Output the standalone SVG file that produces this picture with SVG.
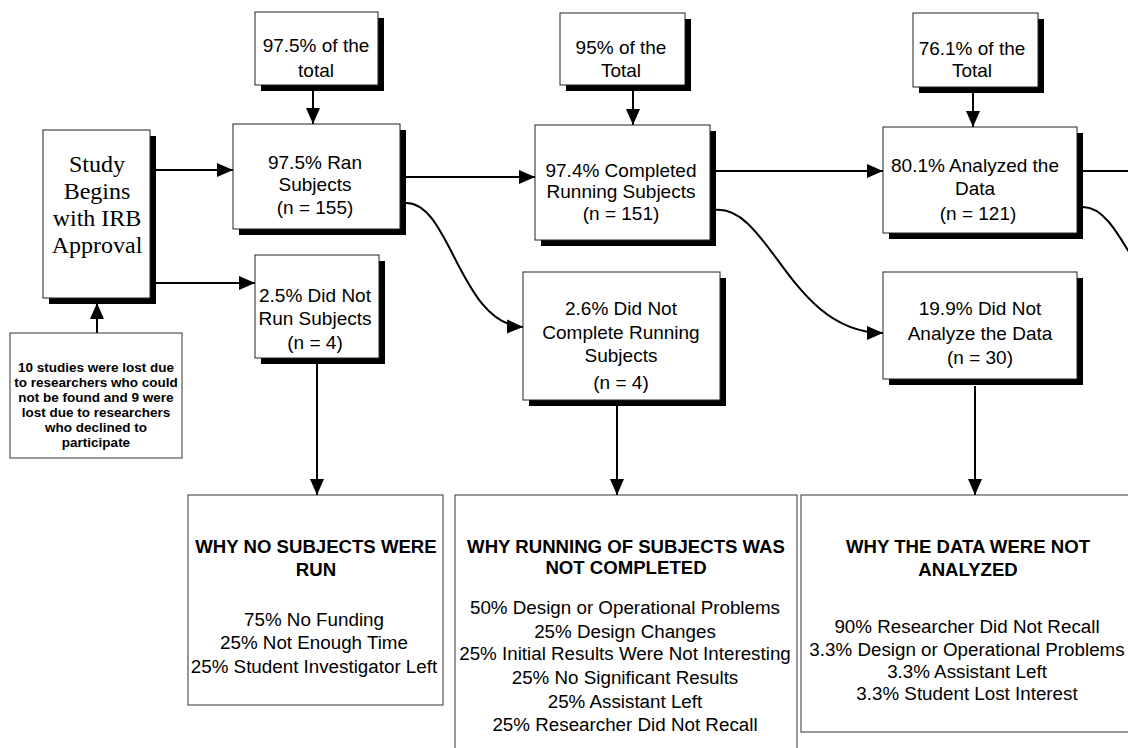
<svg xmlns="http://www.w3.org/2000/svg" width="1128" height="748" viewBox="0 0 1128 748">
<style>
.bg{fill:#fff}
.box{fill:#fff;stroke:#222;stroke-width:1}
.sh{fill:#000}
.thin{fill:#fff;stroke:#333;stroke-width:1}
.t{font-family:"Liberation Sans",Arial,sans-serif;font-size:19px;fill:#000;text-anchor:middle}
.s{font-family:"Liberation Serif","Times New Roman",serif;font-size:24px;fill:#000;text-anchor:middle}
.n{font-family:"Liberation Sans",Arial,sans-serif;font-size:13.5px;font-weight:bold;fill:#000;text-anchor:middle}
.h{font-family:"Liberation Sans",Arial,sans-serif;font-size:18.6px;font-weight:bold;fill:#000;text-anchor:middle}
.b{font-family:"Liberation Sans",Arial,sans-serif;font-size:18.8px;fill:#000;text-anchor:middle}
.c{fill:none;stroke:#000;stroke-width:2}
</style>
<defs>
<marker id="ah" markerUnits="userSpaceOnUse" markerWidth="16" markerHeight="14" refX="16" refY="7" orient="auto">
<path d="M0,0 L16,7 L0,14 z" fill="#000"/>
</marker>
</defs>
<rect class="bg" x="0" y="0" width="1128" height="748"/>

<g id="connectors">
<line class="c" x1="313" y1="90" x2="313" y2="124" marker-end="url(#ah)"/>
<line class="c" x1="633" y1="90" x2="633" y2="125" marker-end="url(#ah)"/>
<line class="c" x1="973" y1="92" x2="973" y2="127" marker-end="url(#ah)"/>
<line class="c" x1="156" y1="170" x2="233" y2="170" marker-end="url(#ah)"/>
<line class="c" x1="156" y1="283" x2="255" y2="283" marker-end="url(#ah)"/>
<line class="c" x1="97" y1="333" x2="97" y2="303" marker-end="url(#ah)"/>
<line class="c" x1="406" y1="177" x2="535" y2="177" marker-end="url(#ah)"/>
<line class="c" x1="716" y1="171" x2="883" y2="171" marker-end="url(#ah)"/>
<line class="c" x1="1083" y1="171" x2="1130" y2="171"/>
<path class="c" d="M405,203 C450,200 460,325 523,327" marker-end="url(#ah)"/>
<path class="c" d="M715,210 C770,205 790,333 883,333" marker-end="url(#ah)"/>
<path class="c" d="M1083,207 C1102,207 1115,228 1135,262"/>
<line class="c" x1="317" y1="364" x2="317" y2="495" marker-end="url(#ah)"/>
<line class="c" x1="617" y1="406" x2="617" y2="495" marker-end="url(#ah)"/>
<line class="c" x1="975" y1="386" x2="975" y2="495" marker-end="url(#ah)"/>
</g>

<g id="n_total1">
<rect class="sh" x="261" y="18" width="123" height="73"/>
<rect class="box" x="255" y="12" width="123" height="73"/>
<text class="t" x="316" y="52">97.5% of the</text>
<text class="t" x="316" y="77">total</text>
</g>

<g id="n_total2">
<rect class="sh" x="566" y="19" width="125" height="72"/>
<rect class="box" x="560" y="13" width="125" height="72"/>
<text class="t" x="621" y="54">95% of the</text>
<text class="t" x="621" y="77">Total</text>
</g>

<g id="n_total3">
<rect class="sh" x="919" y="19" width="125" height="74"/>
<rect class="box" x="913" y="13" width="125" height="74"/>
<text class="t" x="972" y="55">76.1% of the</text>
<text class="t" x="972" y="77">Total</text>
</g>

<g id="n_study">
<rect class="sh" x="49" y="136" width="107" height="168"/>
<rect class="box" x="43" y="130" width="107" height="168"/>
<text class="s" x="97" y="172">Study</text>
<text class="s" x="97" y="199">Begins</text>
<text class="s" x="97" y="226">with IRB</text>
<text class="s" x="97" y="253">Approval</text>
</g>

<g id="n_note">
<rect class="thin" x="10" y="333" width="172" height="125"/>
<text class="n" x="96" y="372">10 studies were lost due</text>
<text class="n" x="96" y="387">to researchers who could</text>
<text class="n" x="96" y="402">not be found and 9 were</text>
<text class="n" x="96" y="417">lost due to researchers</text>
<text class="n" x="96" y="432">who declined to</text>
<text class="n" x="96" y="447">participate</text>
</g>

<g id="n_ran">
<rect class="sh" x="239" y="130" width="167" height="105"/>
<rect class="box" x="233" y="124" width="167" height="105"/>
<text class="t" x="315" y="169">97.5% Ran</text>
<text class="t" x="315" y="191">Subjects</text>
<text class="t" x="315" y="214">(n = 155)</text>
</g>

<g id="n_notran">
<rect class="sh" x="261" y="261" width="124" height="103"/>
<rect class="box" x="255" y="255" width="124" height="103"/>
<text class="t" x="315" y="302">2.5% Did Not</text>
<text class="t" x="315" y="325">Run Subjects</text>
<text class="t" x="315" y="349">(n = 4)</text>
</g>

<g id="n_completed">
<rect class="sh" x="541" y="131" width="175" height="115"/>
<rect class="box" x="535" y="125" width="175" height="115"/>
<text class="t" x="621" y="177">97.4% Completed</text>
<text class="t" x="621" y="198">Running Subjects</text>
<text class="t" x="621" y="220">(n = 151)</text>
</g>

<g id="n_notcompleted">
<rect class="sh" x="529" y="278" width="197" height="128"/>
<rect class="box" x="523" y="272" width="197" height="128"/>
<text class="t" x="621" y="315">2.6% Did Not</text>
<text class="t" x="621" y="339">Complete Running</text>
<text class="t" x="621" y="362">Subjects</text>
<text class="t" x="621" y="389">(n = 4)</text>
</g>

<g id="n_analyzed">
<rect class="sh" x="889" y="133" width="194" height="106"/>
<rect class="box" x="883" y="127" width="194" height="106"/>
<text class="t" x="975" y="172">80.1% Analyzed the</text>
<text class="t" x="975" y="195">Data</text>
<text class="t" x="978" y="220">(n = 121)</text>
</g>

<g id="n_notanalyzed">
<rect class="sh" x="889" y="278" width="194" height="107"/>
<rect class="box" x="883" y="272" width="194" height="107"/>
<text class="t" x="980" y="315">19.9% Did Not</text>
<text class="t" x="980" y="340">Analyze the Data</text>
<text class="t" x="980" y="364">(n = 30)</text>
</g>

<g id="n_why_norun">
<rect class="thin" x="188" y="495" width="255" height="210"/>
<text class="h" x="316" y="553">WHY NO SUBJECTS WERE</text>
<text class="h" x="316" y="576">RUN</text>
<text class="b" x="314" y="626">75% No Funding</text>
<text class="b" x="314" y="649">25% Not Enough Time</text>
<text class="b" x="314" y="673">25% Student Investigator Left</text>
</g>

<g id="n_why_notcompleted">
<rect class="thin" x="455" y="495" width="342" height="270"/>
<text class="h" x="626" y="553">WHY RUNNING OF SUBJECTS WAS</text>
<text class="h" x="626" y="574">NOT COMPLETED</text>
<text class="b" x="625" y="614">50% Design or Operational Problems</text>
<text class="b" x="625" y="638">25% Design Changes</text>
<text class="b" x="625" y="660">25% Initial Results Were Not Interesting</text>
<text class="b" x="625" y="684">25% No Significant Results</text>
<text class="b" x="625" y="708">25% Assistant Left</text>
<text class="b" x="625" y="731">25% Researcher Did Not Recall</text>
</g>

<g id="n_why_notanalyzed">
<rect class="thin" x="801" y="495" width="340" height="237"/>
<text class="h" x="968" y="553">WHY THE DATA WERE NOT</text>
<text class="h" x="968" y="576">ANALYZED</text>
<text class="b" x="967" y="633">90% Researcher Did Not Recall</text>
<text class="b" x="967" y="656">3.3% Design or Operational Problems</text>
<text class="b" x="967" y="678">3.3% Assistant Left</text>
<text class="b" x="967" y="700">3.3% Student Lost Interest</text>
</g>
</svg>
